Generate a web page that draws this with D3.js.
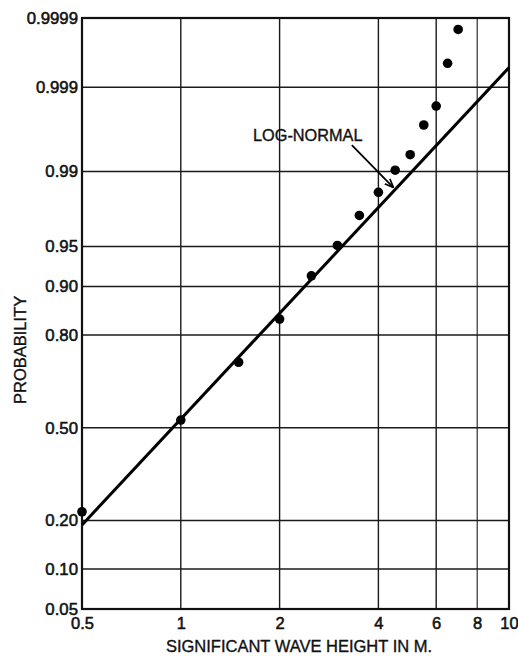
<!DOCTYPE html>
<html>
<head>
<meta charset="utf-8">
<title>Significant wave height - probability</title>
<script src="https://d3js.org/d3.v7.min.js"></script>
<style>
	body { margin: 0; background: #fff; }
	svg text { fill: #111; stroke: #111; stroke-width: 0.35px; }
	.axis text { stroke-width: 0.55px; }
	.axis path, .axis line { display: none; }
	.grid line { stroke: #1a1a1a; }
</style>
</head>
<body>
<script>
	// x axis (log) ticks
	var xTicks = [0.5, 1, 2, 4, 6, 8, 10];
	var xTickLabels = ["0.5", "1", "2", "4", "6", "8", "10"];
	// y axis (normal probability) ticks
	var yTicks = [0.05, 0.10, 0.20, 0.50, 0.80, 0.90, 0.95, 0.99, 0.999, 0.9999];
	var yTickLabels = ["0.05", "0.10", "0.20", "0.50", "0.80", "0.90", "0.95", "0.99", "0.999", "0.9999"];

	// observed points
	var heights = [0.5, 1, 1.5, 2, 2.5, 3, 3.5, 4, 4.5, 5, 5.5, 6, 6.5, 7];
	var probs = [0.223, 0.528, 0.724, 0.838, 0.916, 0.951, 0.973, 0.9837, 0.9903, 0.9934, 0.9970, 0.99825, 0.99953, 0.99985];

	// fitted log-normal line (end points)
	var lineX = [0.5, 10];
	var lineP = [0.189, 0.99946];

	var width = 518, height = 656;
	var margin = {left: 82, right: 9, top: 18, bottom: 47};
	var font = '"Liberation Sans", Arial, sans-serif';

	// inverse standard normal cdf (Acklam)
	function probit(p) {
		var a = [-39.69683028665376, 220.9460984245205, -275.9285104469687, 138.3577518672690, -30.66479806614716, 2.506628277459239];
		var b = [-54.47609879822406, 161.5858368580409, -155.6989798598866, 66.80131188771972, -13.28068155288572];
		var c = [-0.007784894002430293, -0.3223964580411365, -2.400758277161838, -2.549732539343734, 4.374664141464968, 2.938163982698783];
		var d = [0.007784695709041462, 0.3224671290700398, 2.445134137142996, 3.754408661907416];
		var pl = 0.02425, q, r;
		if (p < pl) {
			q = Math.sqrt(-2 * Math.log(p));
			return (((((c[0]*q+c[1])*q+c[2])*q+c[3])*q+c[4])*q+c[5]) / ((((d[0]*q+d[1])*q+d[2])*q+d[3])*q+1);
		}
		if (p > 1 - pl) {
			q = Math.sqrt(-2 * Math.log(1 - p));
			return -(((((c[0]*q+c[1])*q+c[2])*q+c[3])*q+c[4])*q+c[5]) / ((((d[0]*q+d[1])*q+d[2])*q+d[3])*q+1);
		}
		q = p - 0.5; r = q * q;
		return (((((a[0]*r+a[1])*r+a[2])*r+a[3])*r+a[4])*r+a[5])*q / (((((b[0]*r+b[1])*r+b[2])*r+b[3])*r+b[4])*r+1);
	}

	var svg = d3.select('body')
		.append('svg')
		.attr('width', width)
		.attr('height', height)
		.attr('font-family', font);

	var xScale = d3.scaleLog()
		.domain([0.5, 10])
		.range([margin.left, width - margin.right]);
	var zScale = d3.scaleLinear()
		.domain([probit(0.05), probit(0.9999)])
		.range([height - margin.bottom, margin.top]);
	function y(p) { return zScale(probit(p)); }

	// grid lines
	var grid = svg.append('g').attr('class', 'grid');
	grid.selectAll('.hline')
		.data(yTicks.slice(1, -1))
		.enter()
		.append('line')
		.attr('x1', xScale(0.5)).attr('x2', xScale(10))
		.attr('y1', function(d){ return y(d); })
		.attr('y2', function(d){ return y(d); })
		.attr('stroke-width', 1.6);
	grid.selectAll('.vline')
		.data(xTicks.slice(1, -1))
		.enter()
		.append('line')
		.attr('x1', function(d){ return xScale(d); })
		.attr('x2', function(d){ return xScale(d); })
		.attr('y1', y(0.05)).attr('y2', y(0.9999))
		.attr('stroke-width', function(d){ return d == 8 ? 1.1 : 1.4; });

	// frame
	svg.append('rect')
		.attr('x', xScale(0.5))
		.attr('y', y(0.9999))
		.attr('width', xScale(10) - xScale(0.5))
		.attr('height', y(0.05) - y(0.9999))
		.attr('fill', 'none')
		.attr('stroke', '#111')
		.attr('stroke-width', 2.2);

	// axes
	svg.append('g')
		.attr('class', 'axis')
		.attr('transform', 'translate(0,' + (height - margin.bottom) + ')')
		.call(d3.axisBottom(xScale)
			.tickValues(xTicks)
			.tickSize(0)
			.tickPadding(8)
			.tickFormat(function(d, i){ return xTickLabels[i]; }))
		.attr('font-size', 16.5)
		.attr('font-family', font);

	svg.append('g')
		.attr('class', 'axis')
		.attr('transform', 'translate(' + margin.left + ',0)')
		.call(d3.axisLeft(zScale)
			.tickValues(yTicks.map(probit))
			.tickSize(0)
			.tickPadding(4)
			.tickFormat(function(d, i){ return yTickLabels[i]; }))
		.attr('font-size', 16.8)
		.attr('font-family', font);

	// fitted line
	var line = d3.line()
		.x(function(d){ return xScale(d[0]); })
		.y(function(d){ return y(d[1]); });
	svg.append('path')
		.datum(d3.zip(lineX, lineP))
		.attr('d', line)
		.attr('fill', 'none')
		.attr('stroke', '#000')
		.attr('stroke-width', 3);

	// points
	svg.selectAll('.dot')
		.data(d3.zip(heights, probs))
		.enter()
		.append('circle')
		.attr('class', 'dot')
		.attr('cx', function(d){ return xScale(d[0]); })
		.attr('cy', function(d){ return y(d[1]); })
		.attr('r', 4.8)
		.attr('fill', '#000');

	// annotation
	svg.append('defs').append('marker')
		.attr('id', 'head')
		.attr('viewBox', '0 0 10 10')
		.attr('refX', 9).attr('refY', 5)
		.attr('markerWidth', 9).attr('markerHeight', 9)
		.attr('markerUnits', 'userSpaceOnUse')
		.attr('orient', 'auto')
		.append('path')
		.attr('d', 'M0,1 L10,5 L0,9')
		.attr('fill', 'none')
		.attr('stroke', '#000')
		.attr('stroke-width', 1.8);

	svg.append('text')
		.attr('x', xScale(1.66))
		.attr('y', y(0.99537))
		.attr('font-size', 16.3)
		.text('LOG-NORMAL');

	svg.append('line')
		.attr('x1', xScale(3.32)).attr('y1', y(0.99485))
		.attr('x2', xScale(4.43)).attr('y2', y(0.98552))
		.attr('stroke', '#000')
		.attr('stroke-width', 1.8)
		.attr('marker-end', 'url(#head)');

	// axis titles
	svg.append('text')
		.attr('x', 299)
		.attr('y', 652)
		.attr('text-anchor', 'middle')
		.attr('font-size', 16.5)
		.text('SIGNIFICANT WAVE HEIGHT IN M.');

	svg.append('text')
		.attr('transform', 'translate(26,' + y(0.76) + ') rotate(-90)')
		.attr('text-anchor', 'middle')
		.attr('font-size', 16.5)
		.text('PROBABILITY');
</script>
</body>
</html>
